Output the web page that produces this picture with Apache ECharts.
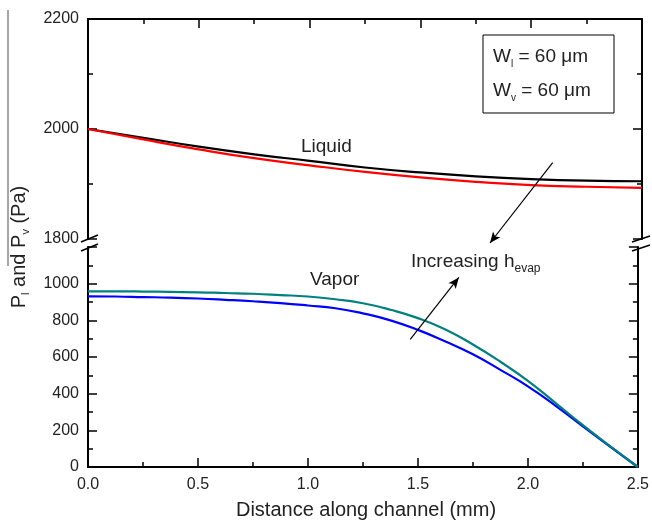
<!DOCTYPE html>
<html>
<head>
<meta charset="utf-8">
<script src="https://cdn.jsdelivr.net/npm/echarts@6/dist/echarts.min.js"></script>
<style>
* { margin: 0; padding: 0; }
html, body { width: 652px; height: 521px; background: #fff; }
#main { width: 652px; height: 521px; }
</style>
</head>
<body>
<div id="main"></div>
<script>
// distance along channel (mm)
const xLiquid = [0, 0.25, 0.5, 0.75, 1.0, 1.25, 1.5, 1.75, 2.0, 2.25, 2.5];
const liquidBlack = [2000, 1984, 1968, 1954, 1942, 1930, 1921, 1914, 1909, 1906, 1905];
const liquidRed = [2000, 1981, 1963, 1947, 1934, 1922, 1912, 1904, 1898, 1895, 1893];

const xVapor = [0, 0.125, 0.25, 0.375, 0.5, 0.625, 0.75, 0.875, 1.0, 1.125, 1.25,
  1.375, 1.5, 1.625, 1.75, 1.875, 2.0, 2.125, 2.25, 2.375, 2.5];
const vaporTeal = [958, 958, 957, 955, 953, 949, 945, 938, 930, 915, 893,
  858, 812, 750, 668, 574, 470, 350, 228, 112, 0];
const vaporBlue = [931, 930, 927, 924, 919, 912, 904, 894, 881, 866, 838,
  800, 748, 685, 615, 530, 440, 335, 222, 110, 0];

const xTicks = [0, 0.5, 1.0, 1.5, 2.0, 2.5];
const yTopTicks = [1800, 2000, 2200];
const yBottomTicks = [0, 200, 400, 600, 800, 1000];

const FONT = "'Liberation Sans', Arial, sans-serif";

function zip(xs, ys) {
  return xs.map(function (x, i) { return [x, ys[i]]; });
}

const chart = echarts.init(document.getElementById('main'));

function xAxisBase(grid, pos, labels) {
  return {
    type: 'value', gridIndex: grid, position: pos,
    min: xTicks[0], max: xTicks[xTicks.length - 1], interval: 0.5,
    axisLine: { show: true, onZero: false, lineStyle: { color: '#000', width: 2 } },
    axisTick: { show: true, inside: true, length: 9, lineStyle: { color: '#000', width: 1.5 } },
    minorTick: { show: true, splitNumber: 2, length: 5, lineStyle: { color: '#000', width: 1.5 } },
    axisLabel: {
      show: labels, margin: 10, color: '#222', fontSize: 16, fontFamily: FONT,
      formatter: function (v) { return v.toFixed(1); }
    },
    splitLine: { show: false }
  };
}

function yAxisBase(grid, pos, ticks, max, labels) {
  return {
    type: 'value', gridIndex: grid, position: pos,
    min: ticks[0], max: max, interval: 200,
    axisLine: { show: true, onZero: false, lineStyle: { color: '#000', width: 2 } },
    axisTick: { show: true, inside: true, length: 9, lineStyle: { color: '#000', width: 1.5 } },
    minorTick: { show: true, splitNumber: 2, length: 5, lineStyle: { color: '#000', width: 1.5 } },
    axisLabel: {
      show: labels, margin: 9, color: '#222', fontSize: 16, fontFamily: FONT,
      formatter: function (v) { return ticks.indexOf(v) >= 0 ? String(v) : ''; }
    },
    splitLine: { show: false }
  };
}

const arrowLine = { color: '#000', width: 1.2, type: 'solid' };

chart.setOption({
  animation: false,
  backgroundColor: '#fff',
  grid: [
    { left: 88, right: 10, top: 19, height: 220 },
    { left: 88, right: 10, top: 247, height: 220 }
  ],
  xAxis: [
    xAxisBase(0, 'top', false),
    xAxisBase(1, 'bottom', true)
  ],
  yAxis: [
    yAxisBase(0, 'left', yTopTicks, 2200, true),
    yAxisBase(0, 'right', yTopTicks, 2200, false),
    yAxisBase(1, 'left', yBottomTicks, 1200, true),
    yAxisBase(1, 'right', yBottomTicks, 1200, false)
  ],
  series: [
    {
      name: 'Liquid 1', type: 'line', xAxisIndex: 0, yAxisIndex: 0,
      data: zip(xLiquid, liquidBlack), smooth: 0.5, symbol: 'none',
      lineStyle: { color: '#000', width: 2.2 },
      markLine: {
        silent: true, symbol: ['none', 'arrow'], symbolSize: [7, 11],
        label: { show: false }, lineStyle: arrowLine,
        data: [[{ coord: [2.097, 1939] }, { x: 490, y: 243 }]]
      }
    },
    {
      name: 'Liquid 2', type: 'line', xAxisIndex: 0, yAxisIndex: 0,
      data: zip(xLiquid, liquidRed), smooth: 0.5, symbol: 'none',
      lineStyle: { color: '#ff0000', width: 2.2 }
    },
    {
      name: 'Vapor 1', type: 'line', xAxisIndex: 1, yAxisIndex: 2,
      data: zip(xVapor, vaporBlue), smooth: 0.5, symbol: 'none',
      lineStyle: { color: '#0000ff', width: 2.2 }
    },
    {
      name: 'Vapor 2', type: 'line', xAxisIndex: 1, yAxisIndex: 2,
      data: zip(xVapor, vaporTeal), smooth: 0.5, symbol: 'none',
      lineStyle: { color: '#008080', width: 2.2 },
      markLine: {
        silent: true, symbol: ['none', 'arrow'], symbolSize: [7, 11],
        label: { show: false }, lineStyle: arrowLine,
        data: [[{ coord: [1.465, 696] }, { coord: [1.686, 1034] }]]
      }
    }
  ],
  graphic: [
    // y axis title
    {
      type: 'text', x: 19, y: 247, rotation: Math.PI / 2,
      style: {
        text: '{a|P}{s|l}{a| and P}{s|v}{a| (Pa)}',
        align: 'center', verticalAlign: 'middle', fill: '#222',
        rich: {
          a: { fontSize: 20, fontFamily: FONT, lineHeight: 24, fill: '#222' },
          s: { fontSize: 11, fontFamily: FONT, lineHeight: 11, verticalAlign: 'bottom', fill: '#222' }
        }
      }
    },
    // x axis title
    {
      type: 'text', x: 366, y: 510,
      style: {
        text: 'Distance along channel (mm)', font: '20px ' + FONT,
        align: 'center', verticalAlign: 'middle', fill: '#222'
      }
    },
    // stray gray rule on the left
    { type: 'line', shape: { x1: 8, y1: 10, x2: 8, y2: 266 }, style: { stroke: '#888', lineWidth: 1.5 } },
    // axis break marks
    { type: 'line', shape: { x1: 81, y1: 242, x2: 98, y2: 235 }, style: { stroke: '#000', lineWidth: 1.5 } },
    { type: 'line', shape: { x1: 81, y1: 251, x2: 98, y2: 244 }, style: { stroke: '#000', lineWidth: 1.5 } },
    { type: 'line', shape: { x1: 632, y1: 242, x2: 650, y2: 236 }, style: { stroke: '#000', lineWidth: 1.5 } },
    { type: 'line', shape: { x1: 632, y1: 251, x2: 650, y2: 245 }, style: { stroke: '#000', lineWidth: 1.5 } },
    // annotations
    {
      type: 'text', x: 301, y: 147,
      style: { text: 'Liquid', font: '19px ' + FONT, align: 'left', verticalAlign: 'middle', fill: '#222' }
    },
    {
      type: 'text', x: 310, y: 280,
      style: { text: 'Vapor', font: '19px ' + FONT, align: 'left', verticalAlign: 'middle', fill: '#222' }
    },
    {
      type: 'text', x: 411, y: 262,
      style: {
        text: '{a|Increasing h}{s|evap}',
        align: 'left', verticalAlign: 'middle', fill: '#222',
        rich: {
          a: { fontSize: 19, fontFamily: FONT, lineHeight: 26, fill: '#222' },
          s: { fontSize: 12, fontFamily: FONT, lineHeight: 12, verticalAlign: 'bottom', fill: '#222' }
        }
      }
    },
    // parameter box
    {
      type: 'rect', shape: { x: 483, y: 35, width: 131, height: 78 },
      style: { fill: '#fff', stroke: '#000', lineWidth: 1 }
    },
    {
      type: 'text', x: 493, y: 57,
      style: {
        text: '{a|W}{s|l}{a| = 60 \u03bcm}',
        align: 'left', verticalAlign: 'middle', fill: '#222',
        rich: {
          a: { fontSize: 19, fontFamily: FONT, lineHeight: 24, fill: '#222' },
          s: { fontSize: 10, fontFamily: FONT, lineHeight: 10, verticalAlign: 'bottom', fill: '#222' }
        }
      }
    },
    {
      type: 'text', x: 493, y: 91,
      style: {
        text: '{a|W}{s|v}{a| = 60 \u03bcm}',
        align: 'left', verticalAlign: 'middle', fill: '#222',
        rich: {
          a: { fontSize: 19, fontFamily: FONT, lineHeight: 24, fill: '#222' },
          s: { fontSize: 10, fontFamily: FONT, lineHeight: 10, verticalAlign: 'bottom', fill: '#222' }
        }
      }
    }
  ]
});
</script>
</body>
</html>
